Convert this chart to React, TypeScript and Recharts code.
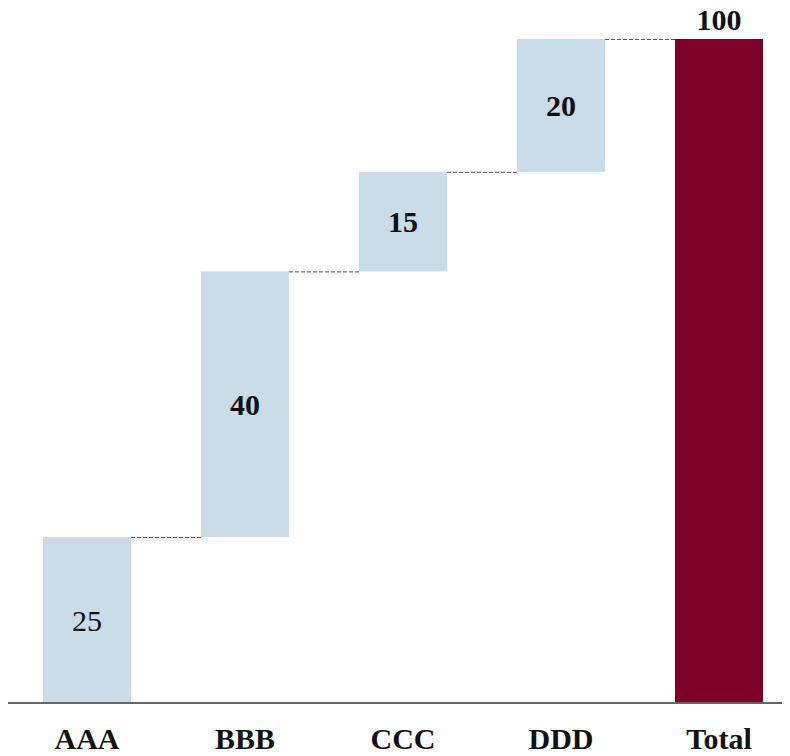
import { BarChart, Bar, XAxis, YAxis, LabelList } from 'recharts';

const categories = ['AAA', 'BBB', 'CCC', 'DDD', 'Total'];
const stepValues = [25, 40, 15, 20];
const labelWeights = ['normal', 'bold', 'bold', 'bold', 'bold'];

const CHART_W = 790;
const CHART_H = 756;
const BAR_W = 88;
const STEP_FILL = '#C9DCE7';
const TOTAL_FILL = '#7D0028';
const FONT = 'Liberation Serif';

type Row = { name: string; base: number; value: number; isTotal: boolean };

// running totals for the floating steps, then the total bar from zero
const rows: Row[] = (() => {
  let running = 0;
  const out: Row[] = stepValues.map((v, i) => {
    const r = { name: categories[i], base: running, value: v, isTotal: false };
    running += v;
    return r;
  });
  out.push({ name: categories[categories.length - 1], base: 0, value: running, isTotal: true });
  return out;
})();

const bandWidth = CHART_W / rows.length;

const StepShape = (props: any) => {
  const { x, y, width, height, index, payload } = props;
  const gap = bandWidth - width;
  return (
    <g>
      <rect x={x} y={y} width={width} height={height} fill={payload.isTotal ? TOTAL_FILL : STEP_FILL} />
      {index < rows.length - 1 && (
        <line
          x1={x + width}
          x2={x + width + gap}
          y1={y + 0.5}
          y2={y + 0.5}
          stroke="#555"
          strokeWidth={1}
          strokeDasharray="4 2"
        />
      )}
    </g>
  );
};

const ValueLabel = (props: any) => {
  const { x, y, width, height, value, index } = props;
  const isTotal = rows[index]?.isTotal;
  const cx = x + width / 2;
  const cy = isTotal ? y - 9 : y + height / 2;
  return (
    <text
      x={cx}
      y={cy}
      textAnchor="middle"
      dominantBaseline={isTotal ? 'auto' : 'central'}
      style={{ fontFamily: FONT, fontSize: 30, fontWeight: labelWeights[index] }}
      fill="#111"
    >
      {value}
    </text>
  );
};

export default function App() {
  // the body keeps its 8px margin; pull the chart up so it fills the window height
  return (
    <div style={{ width: 782, height: CHART_H, marginTop: -8, overflow: 'hidden', fontFamily: FONT }}>
      <BarChart
        width={CHART_W}
        height={CHART_H}
        data={rows}
        margin={{ top: 39, right: 0, left: 0, bottom: 0 }}
        barSize={BAR_W}
      >
        <XAxis
          dataKey="name"
          axisLine={{ stroke: '#666', strokeWidth: 2 }}
          tickLine={false}
          height={53}
          tickMargin={19}
          interval={0}
          tick={{ fontSize: 30, fontWeight: 'bold', fill: '#111', style: { fontFamily: FONT } }}
        />
        <YAxis hide domain={[0, 100]} />
        <Bar dataKey="base" stackId="w" fill="transparent" isAnimationActive={false} />
        <Bar dataKey="value" stackId="w" shape={<StepShape />} isAnimationActive={false}>
          <LabelList dataKey="value" content={<ValueLabel />} />
        </Bar>
      </BarChart>
    </div>
  );
}
